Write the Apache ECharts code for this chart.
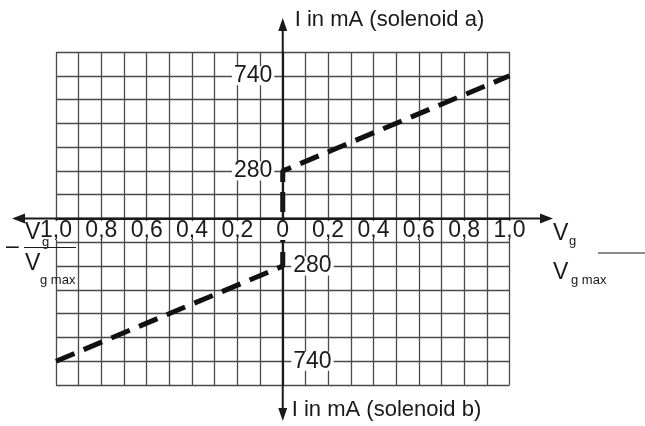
<!DOCTYPE html>
<html>
<head>
<meta charset="utf-8">
<script src="https://cdn.jsdelivr.net/npm/echarts@6/dist/echarts.min.js"></script>
<style>
  html, body { margin: 0; padding: 0; background: #fff; }
  #chart { width: 645px; height: 426px; }
</style>
</head>
<body>
<div id="chart"></div>
<script>
// Vg / Vg max along the characteristic, left to right
const ratio = [-1.0, 0, 0, 1.0];
// current in mA, solenoid b (below the axis) given as negative
const current = [-740, -280, 280, 740];

// labelled ticks on the Vg axis
const xTickValues = [-1, -0.8, -0.6, -0.4, -0.2, 0, 0.2, 0.4, 0.6, 0.8, 1];

// the current axis is not linear: labels sit on fixed grid rows
const tickRows = [2, 6];
const tickLabels = ['280', '740'];
const rowsPerSide = 7;

const FONT = 'Liberation Sans, Arial, sans-serif';
const INK = '#1a1a1a';
const GRID = '#4a4a4a';

// mA -> grid row, through (0,0), (280,2), (740,6)
function toRow(mA) {
  const pts = [[0, 0]].concat(tickLabels.map((t, i) => [Number(t), tickRows[i]]));
  const a = Math.abs(mA);
  let row = pts[pts.length - 1][1];
  for (let i = 1; i < pts.length; i++) {
    if (a <= pts[i][0]) {
      const [x0, y0] = pts[i - 1];
      const [x1, y1] = pts[i];
      row = y0 + (a - x0) / (x1 - x0) * (y1 - y0);
      break;
    }
  }
  return mA < 0 ? -row : row;
}

const fmtRatio = v => (Math.abs(v) < 1e-9 ? '0' : Math.abs(v).toFixed(1).replace('.', ','));

const tickText = {
  fontSize: 23,
  lineHeight: 19,
  fontFamily: FONT,
  color: INK,
  opacity: 1,
  backgroundColor: '#fff'
};

// y labels: above the axis on the left side, below it on the right side
const yLabelData = [];
tickRows.forEach((r, i) => {
  yLabelData.push({ value: [0, r], name: tickLabels[i], label: { position: 'left' } });
  yLabelData.push({ value: [0, -r], name: tickLabels[i], label: { position: 'right' } });
});

const chart = echarts.init(document.getElementById('chart'), null, { renderer: 'canvas' });

chart.setOption({
  animation: false,
  backgroundColor: '#fff',
  grid: { left: 56, right: 135.5, top: 52, bottom: 41, outerBoundsMode: 'none' },
  xAxis: {
    type: 'value',
    min: -1,
    max: 1,
    interval: 0.2,
    axisLine: { show: true, onZero: true, lineStyle: { color: INK, width: 2 } },
    axisTick: { show: false },
    minorTick: { show: false, splitNumber: 2 },
    splitLine: { show: true, lineStyle: { color: GRID, width: 1.3 } },
    minorSplitLine: { show: true, lineStyle: { color: GRID, width: 1.3 } },
    axisLabel: { show: false }
  },
  yAxis: [
    {
      type: 'value',
      min: -rowsPerSide,
      max: rowsPerSide,
      interval: 1,
      position: 'left',
      name: 'I in mA (solenoid a)',
      nameLocation: 'end',
      nameGap: 32,
      nameTextStyle: { fontSize: 22, fontFamily: FONT, color: INK, align: 'left', verticalAlign: 'middle', padding: [0, 0, 0, 12] },
      axisLine: { show: true, onZero: true, lineStyle: { color: INK, width: 2 } },
      axisTick: { show: false },
      splitLine: { show: true, lineStyle: { color: GRID, width: 1.3 } },
      axisLabel: { show: false }
    },
    {
      type: 'value',
      min: -rowsPerSide,
      max: rowsPerSide,
      interval: 1,
      position: 'left',
      name: 'I in mA (solenoid b)',
      nameLocation: 'start',
      nameGap: 25,
      nameTextStyle: { fontSize: 22, fontFamily: FONT, color: INK, align: 'left', verticalAlign: 'middle', padding: [0, 0, 0, 9] },
      axisLine: { show: true, onZero: true, onZeroAxisIndex: 0, lineStyle: { color: INK, width: 2 } },
      axisTick: { show: false },
      splitLine: { show: false },
      axisLabel: { show: false }
    }
  ],
  series: [
    {
      type: 'line',
      xAxisIndex: 0,
      yAxisIndex: 0,
      data: ratio.map((x, i) => [x, toRow(current[i])]),
      symbol: 'none',
      z: 5,
      lineStyle: { color: '#111', width: 5, type: [20, 10], cap: 'butt' }
    },
    {
      // Vg tick labels, hanging just under the horizontal axis
      type: 'scatter',
      silent: true,
      z: 16,
      symbolSize: 1,
      itemStyle: { color: 'rgba(0,0,0,0)', opacity: 1 },
      data: xTickValues.map(v => [v, 0]),
      label: Object.assign({
        show: true,
        position: 'bottom',
        distance: 2,
        padding: [0, 1, 0, 1],
        formatter: p => fmtRatio(p.value[0])
      }, tickText)
    },
    {
      // current tick labels beside the vertical axis
      type: 'scatter',
      silent: true,
      z: 16,
      symbolSize: 1,
      itemStyle: { color: 'rgba(0,0,0,0)', opacity: 1 },
      data: yLabelData,
      label: Object.assign({
        show: true,
        distance: 8,
        padding: [0, 2, 0, 2],
        formatter: p => p.name
      }, tickText)
    }
  ]
});

// axis lines with arrow heads, reaching past the grid
const o = chart.convertToPixel({ xAxisIndex: 0, yAxisIndex: 0 }, [0, 0]);
const ox = o[0], oy = o[1];
const axisStyle = { stroke: INK, lineWidth: 2 };
const txt = (x, y, text, size) => ({
  type: 'text', x: x, y: y, z: 20,
  style: { text: text, fontSize: size, fontFamily: FONT, fill: INK, verticalAlign: 'middle', align: 'left' }
});

chart.setOption({
  graphic: [
    { type: 'line', z: 15, shape: { x1: 20, y1: oy, x2: 545, y2: oy }, style: axisStyle },
    { type: 'line', z: 15, shape: { x1: ox, y1: 26, x2: ox, y2: 413 }, style: axisStyle },
    { type: 'polygon', z: 15, shape: { points: [[12, oy], [25, oy - 5], [25, oy + 5]] }, style: { fill: INK } },
    { type: 'polygon', z: 15, shape: { points: [[553, oy], [540, oy - 5], [540, oy + 5]] }, style: { fill: INK } },
    { type: 'polygon', z: 15, shape: { points: [[ox, 18], [ox - 4.5, 31], [ox + 4.5, 31]] }, style: { fill: INK } },
    { type: 'polygon', z: 15, shape: { points: [[ox, 421], [ox - 4.5, 408], [ox + 4.5, 408]] }, style: { fill: INK } },

    // -Vg / Vg max on the left
    txt(6, 247, '\u2013', 23),
    { type: 'line', z: 20, shape: { x1: 24, y1: 247.5, x2: 76, y2: 247.5 }, style: { stroke: INK, lineWidth: 1.2 } },
    txt(25, 232.5, 'V', 23),
    txt(42, 242.5, 'g', 13),
    txt(25, 264, 'V', 23),
    txt(40, 280, 'g max', 13),

    // Vg / Vg max on the right
    txt(553, 234, 'V', 23),
    txt(569, 241.5, 'g', 13),
    { type: 'line', z: 20, shape: { x1: 598, y1: 253, x2: 645, y2: 253 }, style: { stroke: INK, lineWidth: 1.2 } },
    txt(553, 272.5, 'V', 23),
    txt(571, 280, 'g max', 13)
  ]
});
</script>
</body>
</html>
